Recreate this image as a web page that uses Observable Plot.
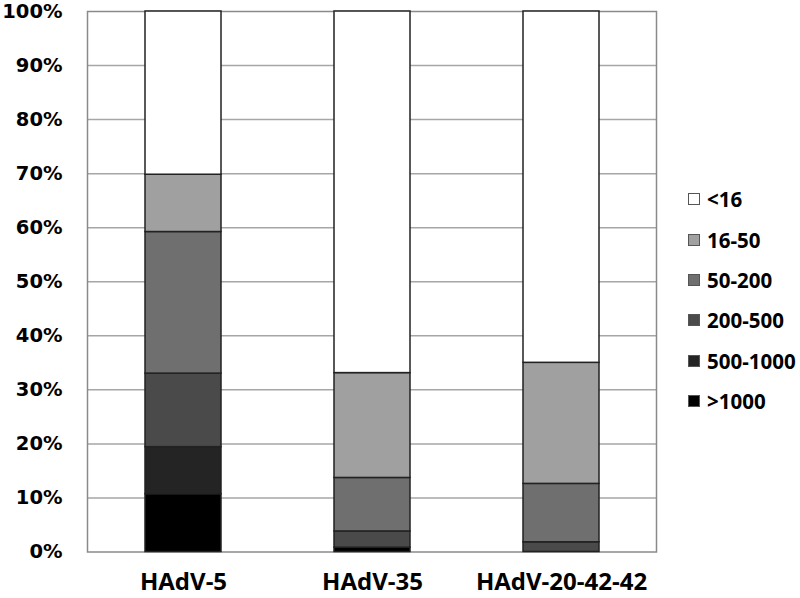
<!DOCTYPE html>
<html>
<head>
<meta charset="utf-8">
<script src="https://cdn.jsdelivr.net/npm/d3@7"></script>
<script src="https://cdn.jsdelivr.net/npm/@observablehq/plot@0.6"></script>
<style>
  html, body { margin: 0; padding: 0; background: #fff; }
  #wrap { position: relative; width: 800px; height: 598px; }
  #legend { position: absolute; left: 688px; top: 0; font-family: "Open Sans", sans-serif; font-weight: 700; font-size: 20.5px; color: #000; }
  .item { position: absolute; left: 0; display: flex; align-items: center; white-space: nowrap; transform: translateY(-50%); }
  .sw { width: 12px; height: 12px; border: 1px solid #555; margin-right: 7px; box-sizing: border-box; }
</style>
</head>
<body>
<div id="wrap"><div id="chart"></div><div id="legend"></div></div>
<script>
// Categories (x axis)
const viruses = ["HAdV-5", "HAdV-35", "HAdV-20-42-42"];
// Series, stacked bottom to top
const ranges = [">1000", "500-1000", "200-500", "50-200", "16-50", "<16"];
const colors = ["#000000", "#242424", "#4a4a4a", "#6f6f6f", "#a0a0a0", "#ffffff"];
// Fractions per series, in order of viruses
const gt1000   = [0.107, 0.008, 0.000];
const r500_1000 = [0.087, 0.000, 0.000];
const r200_500 = [0.136, 0.030, 0.018];
const r50_200  = [0.262, 0.099, 0.108];
const r16_50   = [0.106, 0.194, 0.224];
const lt16     = [0.302, 0.669, 0.650];
const yTicks = [0, 0.1, 0.2, 0.3, 0.4, 0.5, 0.6, 0.7, 0.8, 0.9, 1.0];

const seriesValues = [gt1000, r500_1000, r200_500, r50_200, r16_50, lt16];
const data = [];
ranges.forEach((r, i) => viruses.forEach((v, j) => data.push({virus: v, range: r, value: seriesValues[i][j]})));

const chart = Plot.plot({
  width: 800,
  height: 598,
  marginLeft: 87,
  marginRight: 144,
  marginTop: 11,
  marginBottom: 46.5,
  style: { background: "#fff", overflow: "visible" },
  x: { domain: viruses, paddingInner: 0.6, paddingOuter: 0.3, label: null },
  y: { domain: [0, 1], label: null },
  color: { domain: ranges, range: colors },
  marks: [
    Plot.ruleY(yTicks.filter(d => d > 0 && d < 1), { stroke: "#a6a6a6", strokeWidth: 1.5 }),
    Plot.frame({ stroke: "#8a8a8a", strokeWidth: 1.5 }),
    Plot.barY(data, { x: "virus", y: "value", fill: "range", stroke: "#222", strokeWidth: 1.5, order: null }),
    Plot.axisY({ ticks: yTicks, tickFormat: d3.format(".0%"), tickSize: 0, tickPadding: 25,
      fontFamily: "DejaVu Sans", fontWeight: "bold", fontSize: 19.5, fill: "#000", label: null }),
    Plot.axisX({ tickSize: 0, tickPadding: 21, fontFamily: "Open Sans", fontWeight: "bold", fontSize: 24, fill: "#000", label: null })
  ]
});
document.getElementById("chart").appendChild(chart);

// Legend (top to bottom)
const legendOrder = ["<16", "16-50", "50-200", "200-500", "500-1000", ">1000"];
const legendY = [199, 239.5, 280, 320, 360.5, 401];
const leg = document.getElementById("legend");
legendOrder.forEach((r, i) => {
  const it = document.createElement("div");
  it.className = "item";
  it.style.top = legendY[i] + "px";
  const sw = document.createElement("span");
  sw.className = "sw";
  sw.style.background = colors[ranges.indexOf(r)];
  it.appendChild(sw);
  const t = document.createElement("span");
  t.textContent = r;
  it.appendChild(t);
  leg.appendChild(it);
});
</script>
</body>
</html>
